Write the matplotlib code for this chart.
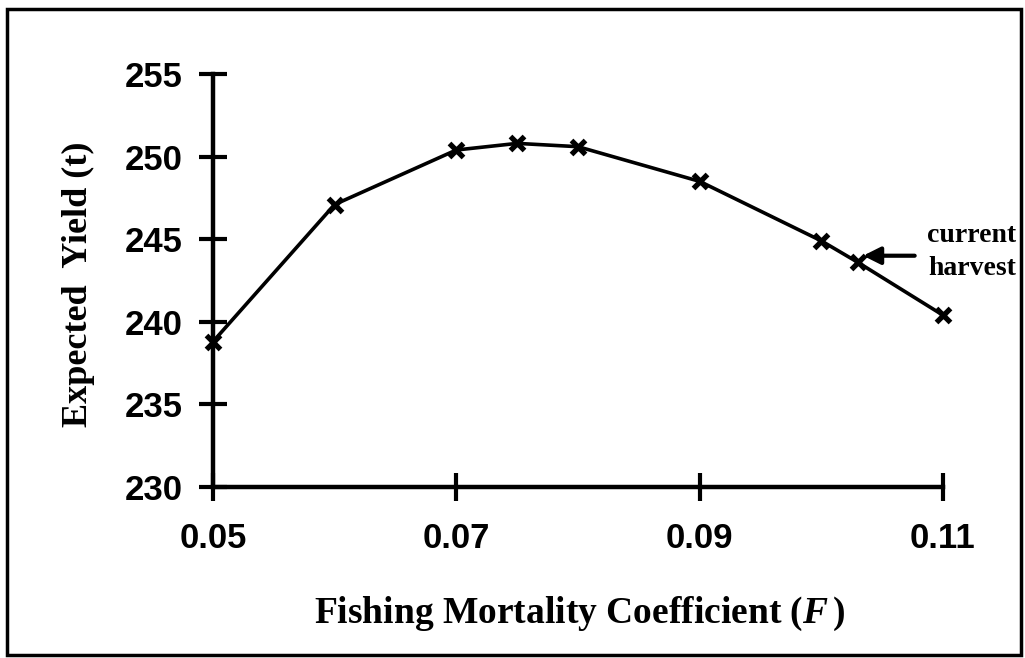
import matplotlib
matplotlib.use('Agg')
from matplotlib import pyplot as plt
from matplotlib.patches import Rectangle

# values
fishing_mortality = [0.05, 0.06, 0.07, 0.075, 0.08, 0.09, 0.10, 0.103, 0.11]
expected_yield = [238.8, 247.1, 250.4, 250.8, 250.6, 248.5, 244.9, 243.6, 240.4]
x_ticks = [0.05, 0.07, 0.09, 0.11]
x_tick_labels = ['0.05', '0.07', '0.09', '0.11']
y_ticks = [230, 235, 240, 245, 250, 255]

serif = ['Liberation Serif', 'DejaVu Serif']
sans = ['Liberation Sans', 'DejaVu Sans']

plt.rcParams['mathtext.fontset'] = 'custom'
plt.rcParams['mathtext.it'] = 'Liberation Serif:italic:bold'
plt.rcParams['mathtext.rm'] = 'Liberation Serif:bold'

fig = plt.figure(figsize=(10.25, 6.58), dpi=100)
ax = fig.add_axes([213/1025, 1 - 487/658, 730/1025, 413/658])

ax.plot(fishing_mortality, expected_yield, color='black', lw=2.6,
	marker='x', markersize=10, markeredgewidth=3.8, clip_on=False, zorder=3)

ax.set_xlim(0.05, 0.11)
ax.set_ylim(230, 255)
ax.set_xticks(x_ticks)
ax.set_xticklabels(x_tick_labels)
ax.set_yticks(y_ticks)

for side in ['top', 'right']:
	ax.spines[side].set_visible(False)
for side in ['left', 'bottom']:
	ax.spines[side].set_linewidth(3.2)

ax.tick_params(direction='inout', length=20, width=3)
ax.tick_params(axis='y', pad=12)
ax.tick_params(axis='x', pad=15)
for lab in ax.get_xticklabels() + ax.get_yticklabels():
	lab.set_family(sans)
	lab.set_fontweight('bold')
	lab.set_fontsize(25)

fig.text(580/1025, 1 - 614/658, 'Fishing Mortality Coefficient ($F\\,$)',
	family=serif, fontweight='bold', fontsize=27, ha='center', va='center')
fig.text(78/1025, 1 - 284/658, 'Expected  Yield (t)', family=serif,
	fontweight='bold', fontsize=26, rotation=90, ha='center', va='center')

# current harvest note
ax.annotate('', xy=(0.1032, 244.0), xytext=(0.1079, 244.0),
	arrowprops=dict(arrowstyle='-|>', color='black', lw=3, mutation_scale=26),
	annotation_clip=False)
fig.text(972/1025, 1 - 252/658, 'current\nharvest', family=serif,
	fontweight='bold', fontsize=20, ha='center', va='center', linespacing=1.4)

# border around the whole picture
fig.patches.append(Rectangle((7/1025, 3/658), 1014/1025, 646/658,
	transform=fig.transFigure, fill=False, edgecolor='black', lw=2.5))

fig.savefig('out.png', dpi=100)
